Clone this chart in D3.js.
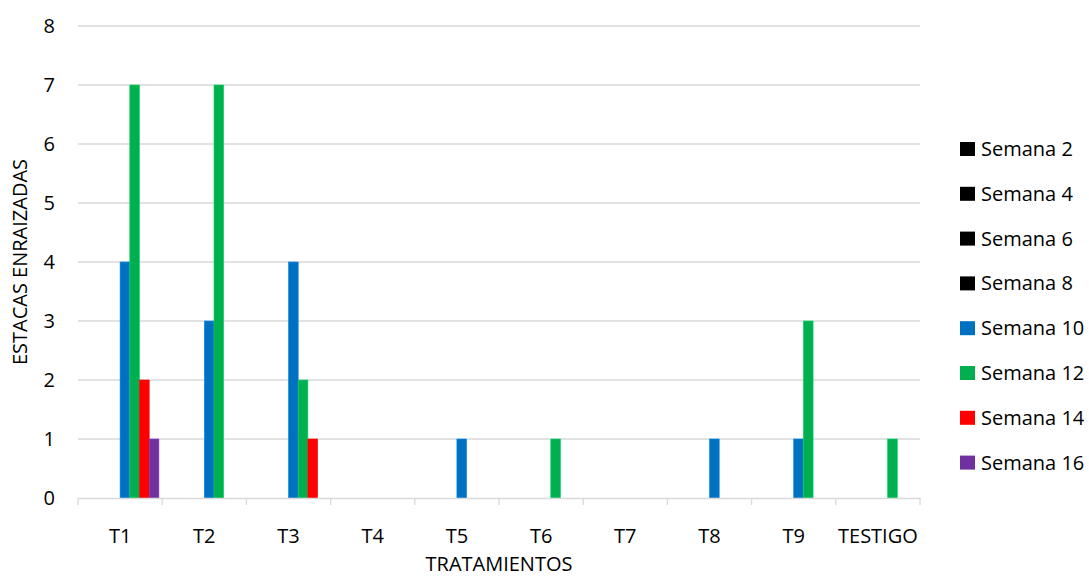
<!DOCTYPE html>
<html>
<head>
<meta charset="utf-8">
<script src="https://cdn.jsdelivr.net/npm/d3@7"></script>
<style>
  html, body { margin: 0; padding: 0; background: #fff; }
  svg text { font-family: "Open Sans", "Liberation Sans", sans-serif; fill: #000; }
</style>
</head>
<body>
<svg id="chart" width="1089" height="576"></svg>
<script>
// Treatments on the x axis
const categories = ["T1", "T2", "T3", "T4", "T5", "T6", "T7", "T8", "T9", "TESTIGO"];
// Weekly series
const seriesNames = ["Semana 2", "Semana 4", "Semana 6", "Semana 8", "Semana 10", "Semana 12", "Semana 14", "Semana 16"];
const seriesColors = ["#000000", "#000000", "#000000", "#000000", "#0070C0", "#00B050", "#FF0000", "#7030A0"];
// Rooted cuttings per treatment for each week
const semana2  = [0, 0, 0, 0, 0, 0, 0, 0, 0, 0];
const semana4  = [0, 0, 0, 0, 0, 0, 0, 0, 0, 0];
const semana6  = [0, 0, 0, 0, 0, 0, 0, 0, 0, 0];
const semana8  = [0, 0, 0, 0, 0, 0, 0, 0, 0, 0];
const semana10 = [4, 3, 4, 0, 1, 0, 0, 1, 1, 0];
const semana12 = [7, 7, 2, 0, 0, 1, 0, 0, 3, 1];
const semana14 = [2, 0, 1, 0, 0, 0, 0, 0, 0, 0];
const semana16 = [1, 0, 0, 0, 0, 0, 0, 0, 0, 0];
const yTicks = [0, 1, 2, 3, 4, 5, 6, 7, 8];

const values = [semana2, semana4, semana6, semana8, semana10, semana12, semana14, semana16];

const svg = d3.select("#chart");
const plot = { left: 78, right: 920, top: 26, bottom: 498 };
const fontSize = 20;

const x0 = d3.scaleBand().domain(categories).range([plot.left, plot.right]).padding(0);
const x1 = d3.scaleBand().domain(seriesNames)
  .range([3.3, x0.bandwidth() - 3.3]).paddingInner(0);
const y = d3.scaleLinear().domain([0, 8]).range([plot.bottom, plot.top]);

// Horizontal gridlines
svg.append("g")
  .selectAll("line")
  .data(yTicks.filter(d => d > 0))
  .join("line")
  .attr("x1", plot.left).attr("x2", plot.right)
  .attr("y1", d => y(d)).attr("y2", d => y(d))
  .attr("stroke", "#d9d9d9").attr("stroke-width", 1.3);

// Y axis labels
const yAxis = svg.append("g")
  .attr("transform", `translate(${plot.left},0)`)
  .call(d3.axisLeft(y).tickValues(yTicks).tickSize(0).tickPadding(23));
yAxis.select(".domain").remove();
yAxis.selectAll("text").attr("font-size", fontSize).attr("font-family", "'Open Sans', sans-serif");

// Bars
const groups = svg.append("g")
  .selectAll("g")
  .data(categories)
  .join("g")
  .attr("transform", d => `translate(${x0(d)},0)`);

groups.selectAll("rect")
  .data((c, i) => seriesNames.map((s, k) => ({ s, k, v: values[k][i] })))
  .join("rect")
  .attr("x", d => x1(d.s))
  .attr("width", x1.bandwidth())
  .attr("y", d => y(d.v))
  .attr("height", d => y(0) - y(d.v))
  .attr("fill", d => seriesColors[d.k])
  .attr("stroke", d => d3.color(seriesColors[d.k]).brighter(0.6))
  .attr("stroke-width", 0.6);

// X axis
const xAxis = svg.append("g")
  .attr("transform", `translate(0,${plot.bottom})`)
  .call(d3.axisBottom(x0).tickSize(0).tickPadding(31));
xAxis.select(".domain").attr("stroke", "#d9d9d9").attr("stroke-width", 1.3);
xAxis.selectAll("text").attr("font-size", fontSize).attr("font-family", "'Open Sans', sans-serif");
// Category boundary ticks
const boundaries = categories.map(c => x0(c)).concat([plot.right]);
xAxis.append("g").selectAll("line")
  .data(boundaries)
  .join("line")
  .attr("x1", d => d).attr("x2", d => d)
  .attr("y1", 0).attr("y2", 7)
  .attr("stroke", "#d9d9d9").attr("stroke-width", 1.3);

// Axis titles
svg.append("text")
  .attr("x", (plot.left + plot.right) / 2).attr("y", 571)
  .attr("text-anchor", "middle").attr("font-size", fontSize)
  .text("TRATAMIENTOS");
svg.append("text")
  .attr("transform", `translate(27,${(plot.top + plot.bottom) / 2}) rotate(-90)`)
  .attr("text-anchor", "middle").attr("font-size", fontSize)
  .text("ESTACAS ENRAIZADAS");

// Legend
const legend = svg.append("g")
  .selectAll("g")
  .data(seriesNames)
  .join("g")
  .attr("transform", (d, i) => `translate(960,${149 + i * 44.8})`);
legend.append("rect")
  .attr("x", 0).attr("y", -7).attr("width", 15).attr("height", 14)
  .attr("fill", (d, i) => seriesColors[i]);
legend.append("text")
  .attr("x", 21).attr("y", 0).attr("dy", "0.35em")
  .attr("font-size", fontSize)
  .text(d => d);
</script>
</body>
</html>
